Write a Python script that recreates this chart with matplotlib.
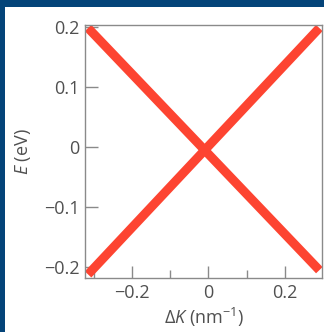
import matplotlib
matplotlib.use("Agg")
import matplotlib.pyplot as plt
from matplotlib.patches import Rectangle
from matplotlib.ticker import MultipleLocator

# Linear dispersion branches, E vs delta K
k_branch = [-0.315, 0.29]
e_lower = [0.198, -0.205]
e_upper = [-0.212, 0.198]

x_ticks = [-0.2, 0, 0.2]
y_ticks = [-0.2, -0.1, 0, 0.1, 0.2]

plt.rcParams['font.family'] = ['Open Sans', 'DejaVu Sans']
plt.rcParams['mathtext.fontset'] = 'custom'
plt.rcParams['mathtext.rm'] = 'Open Sans'
plt.rcParams['mathtext.it'] = 'Open Sans:italic'
text_color = '#505050'
spine_color = '#8a8a8a'
navy = '#044479'

W, H = 324, 332
fig = plt.figure(figsize=(W / 100, H / 100), dpi=100)
fig.patch.set_facecolor('white')

# frame bands along the top and left edges
fig.patches.append(Rectangle((0, 1 - 7 / H), 1, 7 / H, transform=fig.transFigure,
                             facecolor=navy, edgecolor='none', zorder=0))
fig.patches.append(Rectangle((0, 0), 5 / W, 1, transform=fig.transFigure,
                             facecolor=navy, edgecolor='none', zorder=0))

ax = fig.add_axes([85 / W, 1 - 278 / H, (322 - 85) / W, (278 - 25) / H])

ax.plot(k_branch, e_lower, color='#fd4431', lw=6.5, solid_capstyle='butt')
ax.plot(k_branch, e_upper, color='#fd4431', lw=6.5, solid_capstyle='butt')

ax.set_xlim(-0.323, 0.297)
ax.set_ylim(-0.218, 0.203)

ax.set_xticks(x_ticks)
ax.set_xticklabels(['\u22120.2', '0', '0.2'])
ax.xaxis.set_minor_locator(MultipleLocator(0.1))
ax.set_yticks(y_ticks)
ax.set_yticklabels(['\u22120.2', '\u22120.1', '0', '0.1', '0.2'])

ax.tick_params(axis='both', which='major', direction='in', length=9, width=1,
               color=spine_color, labelcolor=text_color, labelsize=13, pad=4)
ax.tick_params(axis='x', which='minor', direction='in', length=6, width=1,
               color=spine_color)
ax.tick_params(top=False, right=False, which='both')

for s in ax.spines.values():
    s.set_color(spine_color)
    s.set_linewidth(1)

ax.set_xlabel(r'$\Delta\mathit{K}$ (nm$^{-1}$)', color=text_color, fontsize=13, labelpad=3)
ax.set_ylabel(r'$\mathit{E}$ (eV)', color=text_color, fontsize=13, labelpad=8)

fig.savefig('out.png', dpi=100)
